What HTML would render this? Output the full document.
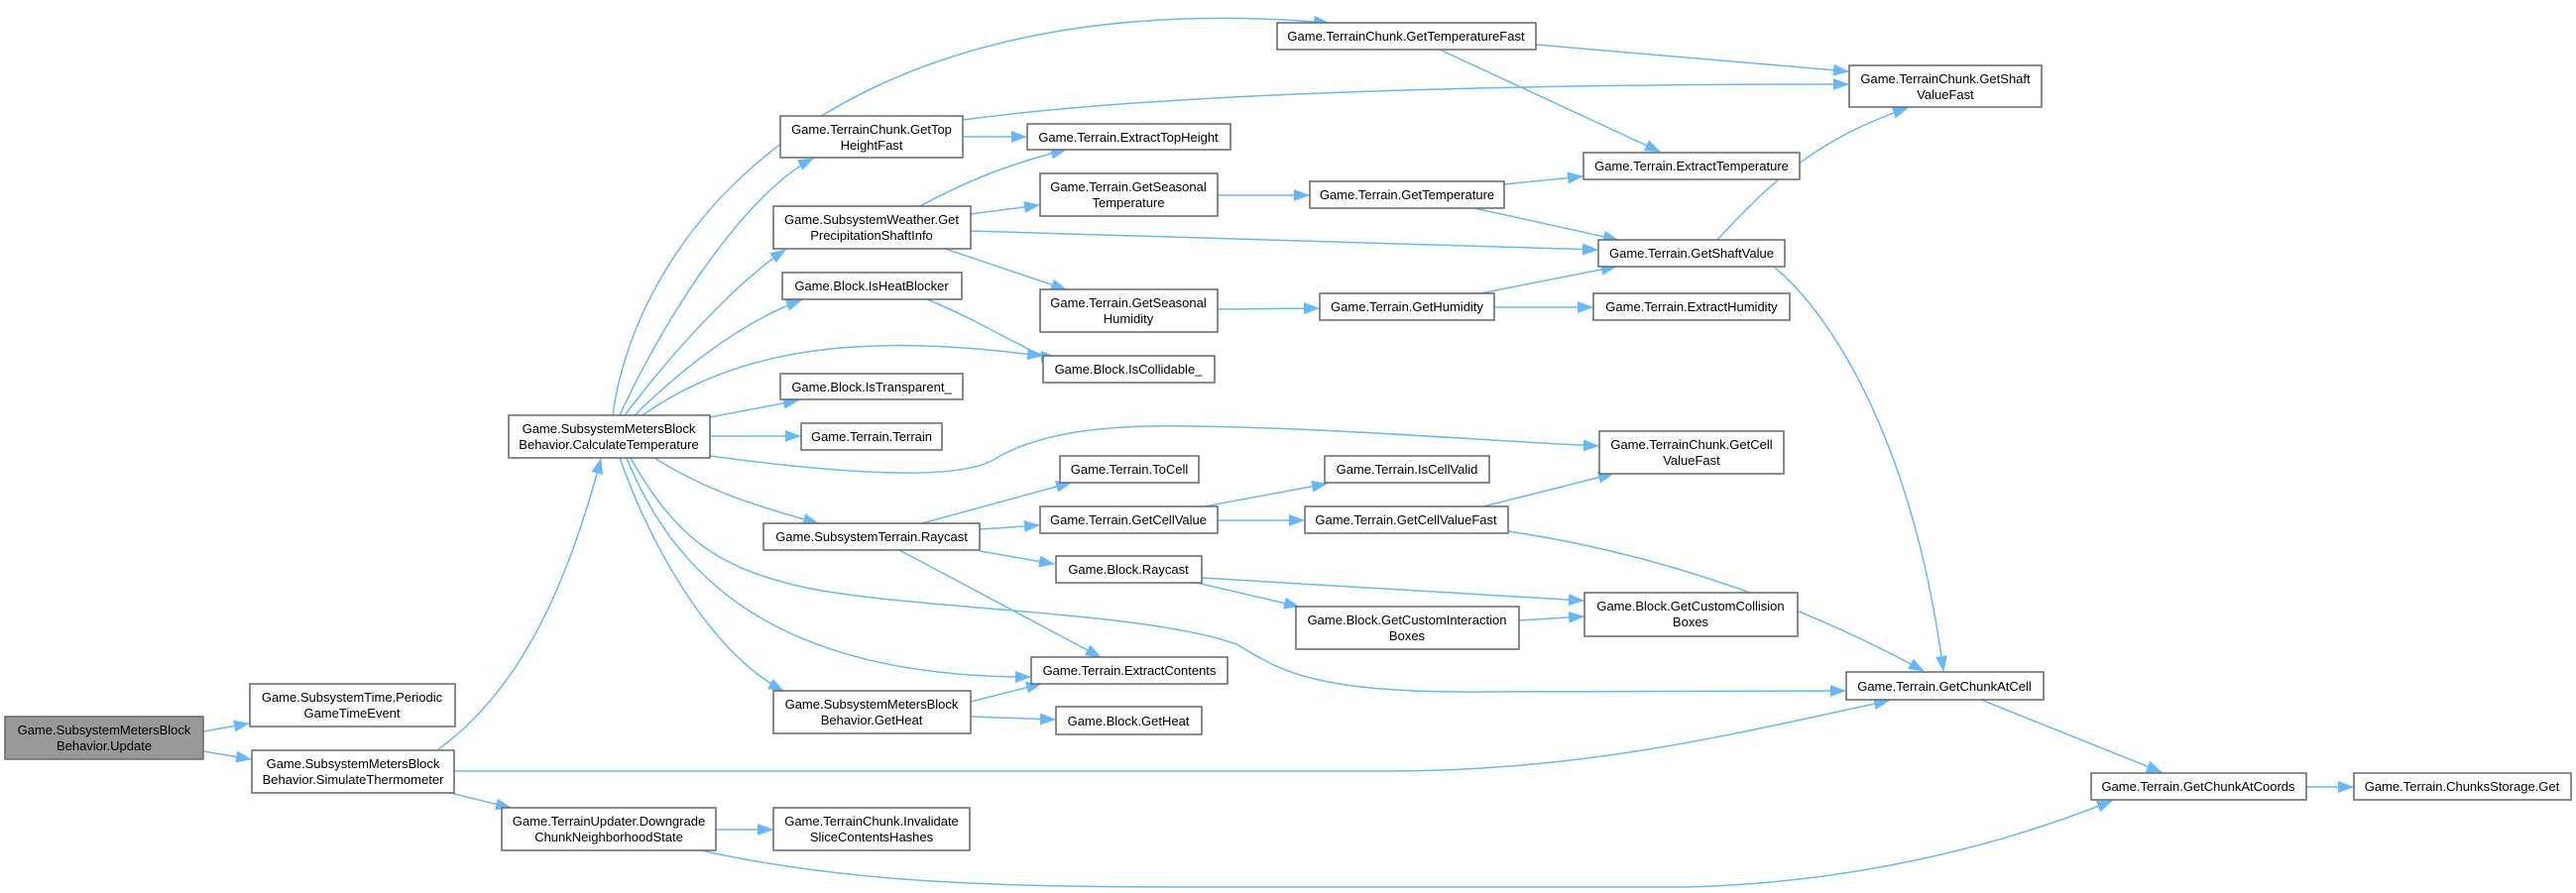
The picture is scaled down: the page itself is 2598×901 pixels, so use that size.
<!DOCTYPE html>
<html><head><meta charset="utf-8"><style>
html,body{margin:0;padding:0;background:#fff;}
svg{display:block;}
text{font-family:"Liberation Sans",Arial,sans-serif;font-size:13px;fill:#000;text-anchor:middle;}
.n{fill:#fff;stroke:#666;stroke-width:1.5;}
.e{fill:none;stroke:#63b8ff;stroke-width:1.5;}
</style></head><body>
<svg width="2598" height="901" viewBox="0 0 2598 901" xmlns="http://www.w3.org/2000/svg">
<defs>
<marker id="a" markerUnits="userSpaceOnUse" markerWidth="16" markerHeight="12" refX="15" refY="6" orient="auto">
<path d="M0,0 L16,6 L0,12 Z" fill="#63b8ff"/>
</marker>
</defs>
<g class="e" marker-end="url(#a)">
<path d="M205,738 L251,730"/>
<path d="M205,758 L253,766"/>
<path d="M442,756 C520,700 570,600 606,463"/>
<path d="M458,778 L1400,778 C1600,778 1750,740 1905,707"/>
<path d="M454,800 L515,815"/>
<path d="M722,837 L779,837"/>
<path d="M707,858 C850,890 1000,895 1200,895 L1700,895 C1900,890 2050,840 2130,808"/>
<path d="M618,419 C640,250 820,-20 1340,23"/>
<path d="M625,419 C680,300 760,190 820,160"/>
<path d="M630,419 C690,340 750,280 792,252"/>
<path d="M640,419 C700,360 760,320 808,303"/>
<path d="M648,419 C760,340 900,340 1051,359"/>
<path d="M716,421 L805,404"/>
<path d="M716,440 L807,440"/>
<path d="M716,460 C850,478 960,485 1000,465 C1040,440 1100,428 1200,430 C1350,432 1500,445 1612,450"/>
<path d="M660,462 C720,500 780,515 825,528"/>
<path d="M636,462 C680,540 720,570 800,590 C900,615 1150,615 1247,650 C1290,675 1320,700 1500,698 L1861,697"/>
<path d="M632,462 C680,580 780,683 1039,683"/>
<path d="M625,462 C660,560 720,660 790,697"/>
<path d="M1549,45 L1864,72"/>
<path d="M1452,50 L1674,153"/>
<path d="M971,121 C1200,90 1600,85 1864,85"/>
<path d="M971,138 L1035,138"/>
<path d="M928,208 C980,180 1020,165 1075,151"/>
<path d="M979,216 L1048,207"/>
<path d="M979,233 L1611,252"/>
<path d="M953,251 L1075,292"/>
<path d="M1228,197 L1320,197"/>
<path d="M1517,186 L1596,178"/>
<path d="M1487,210 L1632,242"/>
<path d="M1228,312 L1330,311"/>
<path d="M1493,296 L1630,269"/>
<path d="M1507,310 L1606,310"/>
<path d="M1732,242 C1780,190 1830,140 1924,109"/>
<path d="M1790,270 C1850,320 1930,450 1960,677"/>
<path d="M935,302 C990,325 1010,340 1030,348 C1040,355 1055,360 1065,360"/>
<path d="M930,528 L1080,487"/>
<path d="M988,534 L1048,530"/>
<path d="M988,556 L1063,569"/>
<path d="M907,555 L1110,663"/>
<path d="M1215,511 L1338,488"/>
<path d="M1228,525 L1315,525"/>
<path d="M1496,511 L1627,478"/>
<path d="M1521,536 C1650,555 1800,600 1940,677"/>
<path d="M1212,583 L1597,606"/>
<path d="M1207,588 L1310,612"/>
<path d="M1532,626 L1597,622"/>
<path d="M979,708 L1050,690"/>
<path d="M979,723 L1064,726"/>
<path d="M1998,706 L2180,779"/>
<path d="M2326,794 L2373,794"/>
</g>
<g>
<rect x="5" y="723" width="200" height="43" fill="#999" stroke="#666" stroke-width="1.5"/>
<text x="105" y="741">Game.SubsystemMetersBlock</text><text x="105" y="757">Behavior.Update</text>

<rect class="n" x="252" y="690" width="207" height="43"/>
<text x="355" y="708">Game.SubsystemTime.Periodic</text><text x="355" y="724">GameTimeEvent</text>

<rect class="n" x="254" y="757" width="204" height="43"/>
<text x="356" y="775">Game.SubsystemMetersBlock</text><text x="356" y="791">Behavior.SimulateThermometer</text>

<rect class="n" x="513" y="419" width="203" height="43"/>
<text x="614" y="437">Game.SubsystemMetersBlock</text><text x="614" y="453">Behavior.CalculateTemperature</text>

<rect class="n" x="1288" y="23" width="261" height="27"/>
<text x="1418" y="41">Game.TerrainChunk.GetTemperatureFast</text>

<rect class="n" x="1865" y="66" width="194" height="42"/>
<text x="1962" y="84">Game.TerrainChunk.GetShaft</text><text x="1962" y="100">ValueFast</text>

<rect class="n" x="787" y="117" width="184" height="42"/>
<text x="879" y="135">Game.TerrainChunk.GetTop</text><text x="879" y="151">HeightFast</text>

<rect class="n" x="1036" y="125" width="205" height="26"/>
<text x="1138" y="143">Game.Terrain.ExtractTopHeight</text>

<rect class="n" x="1597" y="154" width="218" height="27"/>
<text x="1706" y="172">Game.Terrain.ExtractTemperature</text>

<rect class="n" x="1049" y="175" width="179" height="43"/>
<text x="1138" y="193">Game.Terrain.GetSeasonal</text><text x="1138" y="209">Temperature</text>

<rect class="n" x="1321" y="183" width="196" height="27"/>
<text x="1419" y="201">Game.Terrain.GetTemperature</text>

<rect class="n" x="780" y="208" width="199" height="43"/>
<text x="879" y="226">Game.SubsystemWeather.Get</text><text x="879" y="242">PrecipitationShaftInfo</text>

<rect class="n" x="1612" y="242" width="188" height="27"/>
<text x="1706" y="260">Game.Terrain.GetShaftValue</text>

<rect class="n" x="789" y="275" width="181" height="27"/>
<text x="879" y="293">Game.Block.IsHeatBlocker</text>

<rect class="n" x="1049" y="292" width="179" height="43"/>
<text x="1138" y="310">Game.Terrain.GetSeasonal</text><text x="1138" y="326">Humidity</text>

<rect class="n" x="1331" y="296" width="176" height="27"/>
<text x="1419" y="314">Game.Terrain.GetHumidity</text>

<rect class="n" x="1607" y="296" width="198" height="27"/>
<text x="1706" y="314">Game.Terrain.ExtractHumidity</text>

<rect class="n" x="1052" y="359" width="173" height="27"/>
<text x="1138" y="377">Game.Block.IsCollidable_</text>

<rect class="n" x="787" y="377" width="184" height="26"/>
<text x="879" y="395">Game.Block.IsTransparent_</text>

<rect class="n" x="808" y="427" width="142" height="27"/>
<text x="879" y="445">Game.Terrain.Terrain</text>

<rect class="n" x="1613" y="435" width="186" height="43"/>
<text x="1706" y="453">Game.TerrainChunk.GetCell</text><text x="1706" y="469">ValueFast</text>

<rect class="n" x="1069" y="460" width="140" height="27"/>
<text x="1139" y="478">Game.Terrain.ToCell</text>

<rect class="n" x="1336" y="460" width="166" height="27"/>
<text x="1419" y="478">Game.Terrain.IsCellValid</text>

<rect class="n" x="1049" y="511" width="179" height="27"/>
<text x="1138" y="529">Game.Terrain.GetCellValue</text>

<rect class="n" x="1316" y="511" width="205" height="27"/>
<text x="1418" y="529">Game.Terrain.GetCellValueFast</text>

<rect class="n" x="770" y="528" width="218" height="27"/>
<text x="879" y="546">Game.SubsystemTerrain.Raycast</text>

<rect class="n" x="1065" y="561" width="147" height="27"/>
<text x="1138" y="579">Game.Block.Raycast</text>

<rect class="n" x="1598" y="598" width="215" height="44"/>
<text x="1705" y="616">Game.Block.GetCustomCollision</text><text x="1705" y="632">Boxes</text>

<rect class="n" x="1307" y="612" width="225" height="43"/>
<text x="1419" y="630">Game.Block.GetCustomInteraction</text><text x="1419" y="646">Boxes</text>

<rect class="n" x="1040" y="663" width="198" height="27"/>
<text x="1139" y="681">Game.Terrain.ExtractContents</text>

<rect class="n" x="1862" y="678" width="199" height="28"/>
<text x="1961" y="697">Game.Terrain.GetChunkAtCell</text>

<rect class="n" x="780" y="697" width="199" height="43"/>
<text x="879" y="715">Game.SubsystemMetersBlock</text><text x="879" y="731">Behavior.GetHeat</text>

<rect class="n" x="1065" y="713" width="147" height="28"/>
<text x="1138" y="732">Game.Block.GetHeat</text>

<rect class="n" x="2109" y="780" width="217" height="27"/>
<text x="2217" y="798">Game.Terrain.GetChunkAtCoords</text>

<rect class="n" x="2374" y="780" width="219" height="27"/>
<text x="2483" y="798">Game.Terrain.ChunksStorage.Get</text>

<rect class="n" x="506" y="815" width="216" height="43"/>
<text x="614" y="833">Game.TerrainUpdater.Downgrade</text><text x="614" y="849">ChunkNeighborhoodState</text>

<rect class="n" x="780" y="815" width="198" height="43"/>
<text x="879" y="833">Game.TerrainChunk.Invalidate</text><text x="879" y="849">SliceContentsHashes</text>
</g>
</svg>
</body></html>
